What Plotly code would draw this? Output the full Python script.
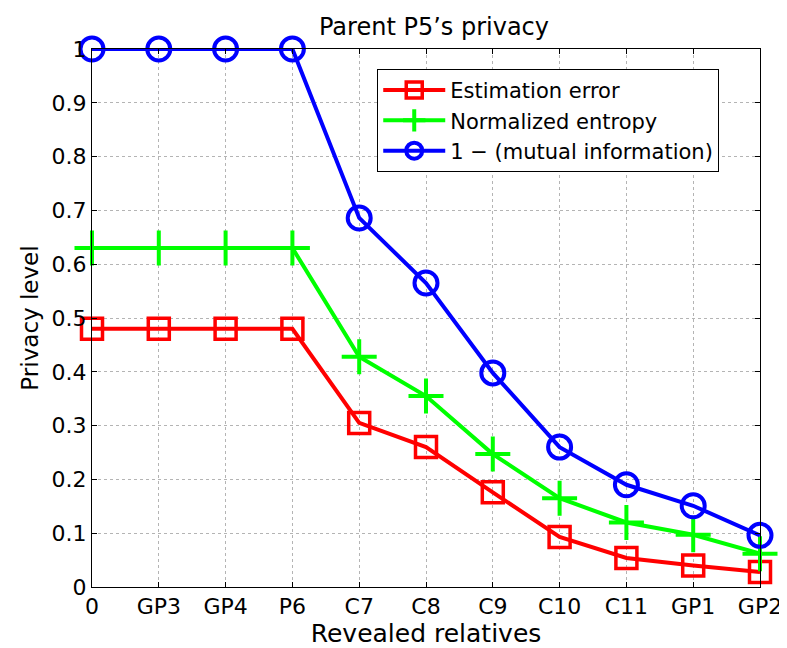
import plotly.graph_objects as go

categories = ["0", "GP3", "GP4", "P6", "C7", "C8", "C9", "C10", "C11", "GP1", "GP2"]
estimation_error = [0.48, 0.48, 0.48, 0.48, 0.305, 0.26, 0.176, 0.093, 0.054, 0.04, 0.028]
normalized_entropy = [0.63, 0.63, 0.63, 0.63, 0.428, 0.355, 0.247, 0.165, 0.12, 0.097, 0.062]
one_minus_mi = [1.0, 1.0, 1.0, 1.0, 0.686, 0.565, 0.398, 0.26, 0.19, 0.151, 0.096]
y_ticks = [0, 0.1, 0.2, 0.3, 0.4, 0.5, 0.6, 0.7, 0.8, 0.9, 1]
y_ticklabels = ["0", "0.1", "0.2", "0.3", "0.4", "0.5", "0.6", "0.7", "0.8", "0.9", "1"]

FONT = "DejaVu Sans, Liberation Sans, Arial, sans-serif"
xs = list(range(len(categories)))

fig = go.Figure()
fig.add_trace(go.Scatter(
    x=xs, y=estimation_error, mode="lines+markers", name="Estimation error",
    line=dict(color="#ff0000", width=4),
    marker=dict(symbol="square-open", size=21, color="#ff0000", line=dict(width=3.5, color="#ff0000")),
    cliponaxis=False,
))
fig.add_trace(go.Scatter(
    x=xs, y=normalized_entropy, mode="lines+markers", name="Normalized entropy",
    line=dict(color="#00ff00", width=4),
    marker=dict(symbol="cross-thin-open", size=25, color="#00ff00", line=dict(width=4, color="#00ff00")),
    cliponaxis=False,
))
fig.add_trace(go.Scatter(
    x=xs, y=one_minus_mi, mode="lines+markers", name="1 \u2212 (mutual information)",
    line=dict(color="#0000ff", width=4),
    marker=dict(symbol="circle-open", size=23, color="#0000ff", line=dict(width=4, color="#0000ff")),
    cliponaxis=False,
))

axis_common = dict(
    showline=True, linecolor="black", linewidth=1, mirror="ticks",
    ticks="inside", ticklen=5, tickcolor="black",
    showgrid=True, gridcolor="#b4b4b4", griddash="dot", gridwidth=1,
    zeroline=False,
    tickfont=dict(family=FONT, size=22, color="black"),
)

fig.update_layout(
    width=787, height=648,
    paper_bgcolor="white", plot_bgcolor="white",
    margin=dict(l=84, r=35, t=41, b=69),
    title=dict(text="Parent P5\u2019s privacy", x=0.5413, xanchor="center", y=0.972, yanchor="middle",
               font=dict(family=FONT, size=24, color="black")),
    xaxis=dict(
        **axis_common,
        tickmode="array", tickvals=xs, ticktext=categories,
        range=[0, len(categories) - 1],
        title=dict(text="Revealed relatives", font=dict(family=FONT, size=25, color="black"), standoff=0),
    ),
    yaxis=dict(
        **axis_common,
        tickmode="array", tickvals=y_ticks, ticktext=y_ticklabels,
        range=[0, 1],
        title=dict(text="Privacy level", font=dict(family=FONT, size=23, color="black"), standoff=6),
    ),
    legend=dict(
        x=0.427, y=0.963, xanchor="left", yanchor="top",
        bordercolor="black", borderwidth=1, bgcolor="white",
        font=dict(family=FONT, size=21, color="black"),
        tracegroupgap=0, itemwidth=62,
    ),
    showlegend=True,
)

fig.write_html("out.html")
